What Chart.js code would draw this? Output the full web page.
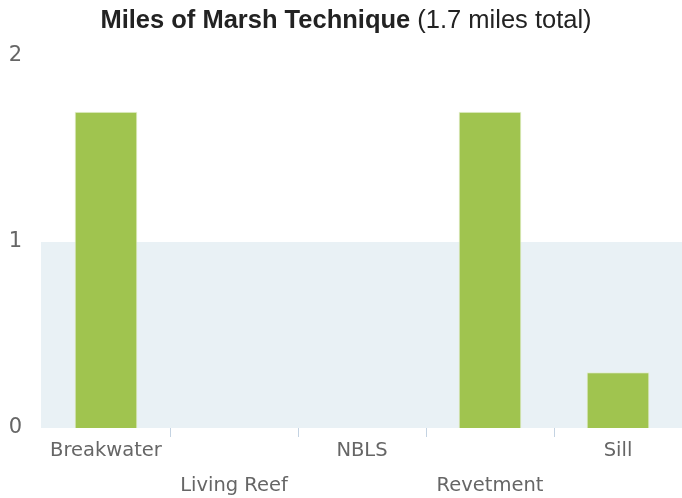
<!DOCTYPE html>
<html>
<head>
<meta charset="utf-8">
<script src="https://cdn.jsdelivr.net/npm/chart.js@4"></script>
<style>
  html, body { margin: 0; padding: 0; background: #fff; }
  #wrap { position: relative; width: 682px; height: 498px; }
  #title {
    position: absolute; left: 0; top: 5px; width: 692px; text-align: center;
    font-family: "Liberation Sans", Arial, sans-serif; font-size: 25.5px; color: #222;
  }
  canvas { position: absolute; left: 0; top: 0; }
</style>
</head>
<body>
<div id="wrap">
  <canvas id="chart" width="682" height="498"></canvas>
  <div id="title"><b>Miles of Marsh Technique</b> (1.7 miles total)</div>
</div>
<script>
const categories = ['Breakwater', 'Living Reef', 'NBLS', 'Revetment', 'Sill'];
const miles = [1.7, 0, 0, 1.7, 0.3];
const yTicks = [0, 1, 2];

// light band behind the bars from 0 to 1
const bandPlugin = {
  id: 'band',
  beforeDatasetsDraw(chart) {
    const { ctx, chartArea, scales } = chart;
    const top = scales.y.getPixelForValue(1);
    const bottom = scales.y.getPixelForValue(0);
    ctx.save();
    ctx.fillStyle = '#e9f1f5';
    ctx.fillRect(chartArea.left - 1, top, chartArea.right - chartArea.left + 1, bottom - top);
    ctx.restore();
  }
};

new Chart(document.getElementById('chart'), {
  type: 'bar',
  data: {
    labels: categories,
    datasets: [{
      data: miles,
      backgroundColor: '#a0c44f',
      borderColor: '#e4efcf',
      borderWidth: 1,
      categoryPercentage: 1,
      barPercentage: 0.49
    }]
  },
  options: {
    responsive: false,
    animation: false,
    layout: { padding: { top: 56, left: 0, right: 0, bottom: 0 } },
    plugins: {
      legend: { display: false },
      title: { display: false },
      tooltip: { enabled: false }
    },
    scales: {
      x: {
        border: { display: false },
        grid: {
          offset: true,
          drawOnChartArea: false,
          tickLength: 9,
          lineWidth: 1,
          color: ctx => (ctx.index === 0 || ctx.index === categories.length) ? 'rgba(0,0,0,0)' : '#c4d3e2'
        },
        ticks: {
          autoSkip: false,
          maxRotation: 0,
          padding: -3,
          color: '#666',
          font: { family: 'DejaVu Sans', size: 19.5, lineHeight: 1.78 },
          callback: (v, i) => i % 2 === 0 ? [categories[i], ''] : ['', categories[i]]
        },
        afterFit: s => { s.height = 70; }
      },
      y: {
        min: 0,
        max: 2,
        border: { display: false },
        grid: { display: false },
        afterBuildTicks: s => { s.ticks = yTicks.map(v => ({ value: v })); },
        ticks: {
          color: '#666',
          padding: 12,
          font: { family: 'DejaVu Sans', size: 21 }
        },
        afterFit: s => { s.width = 42; }
      }
    }
  },
  plugins: [bandPlugin]
});
</script>
</body>
</html>
